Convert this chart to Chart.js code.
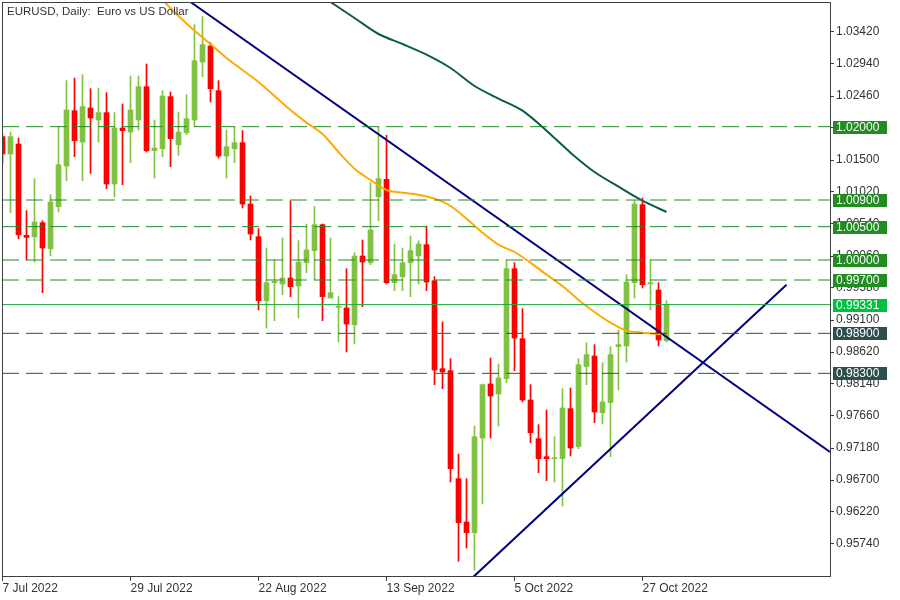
<!DOCTYPE html>
<html lang="en">
<head>
  <meta charset="UTF-8" />
  <title>EURUSD, Daily</title>
  <script src="https://cdn.jsdelivr.net/npm/chart.js"></script>
  <style>
    html, body { margin: 0; padding: 0; background: #fff; }
    #wrap { width: 900px; height: 600px; position: relative; }
  </style>
</head>
<body>
<div id="wrap"><canvas id="chartEurusd"></canvas></div>
<script>
  // daily candles, 7 Jul 2022 .. 1 Nov 2022 (index 0 = 7 Jul)
  const opens = [1.0185, 1.0159, 1.0174, 1.0037, 1.0035, 1.0056, 1.0017, 1.0080, 1.0141, 1.0224,
    1.0177, 1.0228, 1.0210, 1.0221, 1.0114, 1.0198, 1.0192, 1.0210, 1.0260, 1.0164,
    1.0167, 1.0245, 1.0173, 1.0191, 1.0210, 1.0297, 1.0321, 1.0254, 1.0156, 1.0167,
    1.0176, 1.0084, 1.0035, 0.9939, 0.9966, 0.9964, 0.9973, 0.9961, 0.9996, 1.0014,
    1.0053, 0.9943, 0.9929, 0.9928, 0.9903, 1.0006, 0.9996, 1.0095, 1.0121, 0.9966,
    0.9975, 0.9996, 1.0006, 1.0023, 0.9969, 0.9837, 0.9834, 0.9672, 0.9607, 0.9591,
    0.9733, 0.9814, 0.9799, 0.9822, 0.9987, 0.9882, 0.9790, 0.9732, 0.9705, 0.9702,
    0.9702, 0.9777, 0.9720, 0.9840, 0.9856, 0.9771, 0.9786, 0.9870, 0.9871, 0.9966,
    1.0083, 0.9964, 0.9955, 0.9879];
  const highs = [1.0188, 1.0192, 1.0183, 1.0074, 1.0122, 1.0059, 1.0098, 1.0200, 1.0269, 1.0273,
    1.0278, 1.0257, 1.0258, 1.0251, 1.0221, 1.0234, 1.0276, 1.0276, 1.0294, 1.0210,
    1.0254, 1.0252, 1.0222, 1.0248, 1.0353, 1.0365, 1.0326, 1.0269, 1.0195, 1.0200,
    1.0194, 1.0096, 1.0047, 1.0018, 1.0000, 1.0033, 1.0089, 1.0029, 1.0054, 1.0080,
    1.0054, 1.0033, 0.9945, 0.9987, 1.0011, 1.0030, 1.0116, 1.0200, 1.0187, 1.0024,
    1.0018, 1.0036, 1.0029, 1.0051, 0.9975, 0.9907, 0.9852, 0.9709, 0.9672, 0.9751,
    0.9814, 0.9853, 0.9844, 1.0000, 0.9996, 0.9927, 0.9813, 0.9753, 0.9775, 0.9735,
    0.9807, 0.9808, 0.9852, 0.9876, 0.9873, 0.9846, 0.9870, 0.9895, 0.9978, 1.0089,
    1.0093, 1.0000, 0.9966, 0.9939];
  const lows = [1.0145, 1.0071, 1.0032, 1.0000, 0.9997, 0.9951, 1.0006, 1.0072, 1.0119, 1.0155,
    1.0119, 1.0130, 1.0177, 1.0107, 1.0095, 1.0113, 1.0146, 1.0195, 1.0162, 1.0123,
    1.0155, 1.0140, 1.0157, 1.0188, 1.0200, 1.0275, 1.0237, 1.0153, 1.0123, 1.0146,
    1.0078, 1.0030, 0.9925, 0.9898, 0.9909, 0.9948, 0.9945, 0.9913, 0.9981, 0.9970,
    0.9909, 0.9943, 0.9877, 0.9862, 0.9874, 0.9930, 0.9993, 1.0059, 0.9964, 0.9954,
    0.9954, 0.9945, 0.9964, 0.9954, 0.9813, 0.9807, 0.9667, 0.9548, 0.9568, 0.9535,
    0.9634, 0.9733, 0.9751, 0.9816, 0.9834, 0.9787, 0.9726, 0.9681, 0.9669, 0.9667,
    0.9631, 0.9706, 0.9717, 0.9813, 0.9756, 0.9754, 0.9705, 0.9805, 0.9847, 0.9943,
    0.9958, 0.9925, 0.9871, 0.9877];
  const closes = [1.0159, 1.0185, 1.0038, 1.0034, 1.0057, 1.0018, 1.0087, 1.0143, 1.0225, 1.0179,
    1.0230, 1.0213, 1.0221, 1.0114, 1.0198, 1.0194, 1.0225, 1.0260, 1.0164, 1.0168,
    1.0246, 1.0182, 1.0192, 1.0212, 1.0299, 1.0323, 1.0257, 1.0156, 1.0170, 1.0176,
    1.0084, 1.0039, 0.9939, 0.9966, 0.9968, 0.9973, 0.9960, 0.9997, 1.0015, 1.0053,
    0.9945, 0.9951, 0.9930, 0.9904, 1.0006, 0.9997, 1.0045, 1.0122, 0.9966, 0.9978,
    0.9996, 1.0014, 1.0024, 0.9967, 0.9835, 0.9832, 0.9687, 0.9606, 0.9591, 0.9735,
    0.9813, 0.9796, 0.9823, 0.9987, 0.9883, 0.9790, 0.9741, 0.9702, 0.9702, 0.9703,
    0.9778, 0.9718, 0.9843, 0.9858, 0.9772, 0.9787, 0.9858, 0.9873, 0.9967, 1.0084,
    0.9963, 0.9966, 0.9880, 0.9933];

  // moving averages, read at selected bars
  const orangeIdx = [18, 20, 22, 24, 26, 28, 30, 32, 34, 36, 38, 40, 42, 44, 46, 48, 50, 52, 54,
    56, 58, 60, 62, 64, 66, 68, 70, 72, 74, 76, 78, 80, 83];
  const orangeVal = [1.0413, 1.0390, 1.0366, 1.0344, 1.0324, 1.0303, 1.0285, 1.0267, 1.0246, 1.0225,
    1.0206, 1.0189, 1.0162, 1.0137, 1.0120, 1.0105, 1.0101, 1.0098, 1.0092,
    1.0081, 1.0062, 1.0041, 1.0023, 1.0012, 0.9996, 0.9978, 0.9961, 0.9940, 0.9922,
    0.9906, 0.9894, 0.9891, 0.9888];
  const tealIdx = [40, 41, 44, 47, 50, 53, 56, 59, 62, 65, 68, 71, 74, 77, 80, 83];
  const tealVal = [1.0395, 1.0387, 1.0363, 1.0339, 1.0324, 1.0308, 1.0288, 1.0261, 1.0242, 1.0224,
    1.0194, 1.0161, 1.0132, 1.0110, 1.0089, 1.0072];

  // trend lines (bar index, price)
  const trendDownIdx = [23.5, 103.44];
  const trendDownVal = [1.0387, 0.9712];
  const trendUpIdx = [58.8, 98.0];
  const trendUpVal = [0.9524, 0.9963];

  // horizontal levels
  const greenLevels = [1.02, 1.009, 1.005, 1.0, 0.997];
  const greyLevels = [0.989, 0.983];
  const bidLevel = 0.99331;

  const priceTicks = [1.0342, 1.0294, 1.0246, 1.0198, 1.0150, 1.0102, 1.0054, 1.0006, 0.9958,
    0.9910, 0.9862, 0.9814, 0.9766, 0.9718, 0.9670, 0.9622, 0.9574];
  const dateTickIdx = [0, 16, 32, 48, 64, 80];
  const dateTickText = ['7 Jul 2022', '29 Jul 2022', '22 Aug 2022', '13 Sep 2022', '5 Oct 2022', '27 Oct 2022'];

  const X_MIN = -0.0625, X_MAX = 103.4375;
  const BULL = '#80c342', BEAR = '#ff0000';
  const FONT = { family: '"Liberation Sans", Arial, sans-serif', size: 12 };

  const colors = opens.map((o, i) => closes[i] >= o ? BULL : BEAR);
  const idx = opens.map((_, i) => i);

  function levelDataset(v, color, dash, order) {
    return {
      type: 'line', data: [{ x: X_MIN, y: v }, { x: X_MAX, y: v }],
      borderColor: color, borderWidth: 1, borderDash: dash, pointRadius: 0, order: order
    };
  }

  const datasets = [
    ...greenLevels.map(v => levelDataset(v, '#228b22', [17, 7], 1)),
    ...greyLevels.map(v => levelDataset(v, '#2f4f4f', [17, 7], 1)),
    levelDataset(bidLevel, '#1fa83c', [], 1),
    {
      type: 'line', data: trendDownIdx.map((x, k) => ({ x, y: trendDownVal[k] })),
      borderColor: '#000080', borderWidth: 2, pointRadius: 0, order: 2
    },
    {
      type: 'line', data: trendUpIdx.map((x, k) => ({ x, y: trendUpVal[k] })),
      borderColor: '#000080', borderWidth: 2, pointRadius: 0, order: 2
    },
    {
      type: 'line', data: orangeIdx.map((x, k) => ({ x, y: orangeVal[k] })),
      borderColor: '#ffaa00', borderWidth: 2, pointRadius: 0, tension: 0.3, order: 3
    },
    {
      type: 'line', data: tealIdx.map((x, k) => ({ x, y: tealVal[k] })),
      borderColor: '#0b5d4a', borderWidth: 2, pointRadius: 0, tension: 0.3, order: 3
    },
    {
      // bodies
      type: 'bar', data: idx.map(i => ({ x: i, y: [opens[i], closes[i]] })),
      backgroundColor: colors, barThickness: 5, minBarLength: 1, grouped: false, order: 4
    },
    {
      // wicks
      type: 'bar', data: idx.map(i => ({ x: i, y: [lows[i], highs[i]] })),
      backgroundColor: colors, barThickness: 1, grouped: false, order: 5
    }
  ];

  const boxLevels = [...greenLevels, bidLevel, ...greyLevels];
  const boxColors = [...greenLevels.map(() => '#228b22'), '#00c040', ...greyLevels.map(() => '#2f4f4f')];

  const overlay = {
    id: 'overlay',
    afterDraw(chart) {
      const { ctx, chartArea, scales } = chart;
      ctx.save();
      ctx.strokeStyle = '#3c4043';
      ctx.lineWidth = 1;
      ctx.strokeRect(chartArea.left + 0.5, chartArea.top + 0.5, chartArea.width, chartArea.height - 1);
      ctx.font = '12px "Liberation Sans", Arial, sans-serif';
      ctx.textBaseline = 'middle';
      boxLevels.forEach((v, k) => {
        const py = Math.round(scales.y.getPixelForValue(v));
        ctx.fillStyle = boxColors[k];
        ctx.fillRect(chartArea.right + 3, py - 6, 54, 13);
        ctx.fillStyle = '#ffffff';
        ctx.fillText(v.toFixed(5), chartArea.right + 6, py + 1);
      });
      ctx.fillStyle = '#333333';
      ctx.font = '11.5px "Liberation Sans", Arial, sans-serif';
      ctx.fillText('EURUSD, Daily:  Euro vs US Dollar', 7, 12);
      ctx.restore();
    }
  };

  new Chart(document.getElementById('chartEurusd'), {
    type: 'bar',
    data: { datasets },
    options: {
      responsive: true,
      maintainAspectRatio: false,
      animation: false,
      layout: { padding: { left: 2, top: 2, right: 0, bottom: 0 } },
      plugins: { legend: { display: false }, tooltip: { enabled: false } },
      scales: {
        x: {
          type: 'linear', min: X_MIN, max: X_MAX, offset: false,
          afterBuildTicks: s => { s.ticks = dateTickIdx.map(v => ({ value: v })); },
          afterFit: s => { s.height = 23; s.paddingLeft = 0; s.paddingRight = 0; },
          ticks: {
            autoSkip: false, maxRotation: 0, align: 'start', padding: 0,
            color: '#333333', font: FONT,
            callback: (v, i) => dateTickText[i]
          },
          grid: { display: true, offset: false, drawOnChartArea: false, tickLength: 4, color: '#3c4043' },
          border: { display: false }
        },
        y: {
          position: 'right', min: 0.95245, max: 1.0387,
          afterBuildTicks: s => { s.ticks = priceTicks.map(v => ({ value: v })); },
          afterFit: s => { s.width = 70; s.paddingTop = 0; s.paddingBottom = 0; },
          ticks: {
            padding: 2, color: '#333333', font: FONT,
            callback: v => v.toFixed(5)
          },
          grid: { display: true, offset: false, drawOnChartArea: false, tickLength: 4, color: '#3c4043' },
          border: { display: false }
        }
      }
    },
    plugins: [overlay]
  });
</script>
</body>
</html>
